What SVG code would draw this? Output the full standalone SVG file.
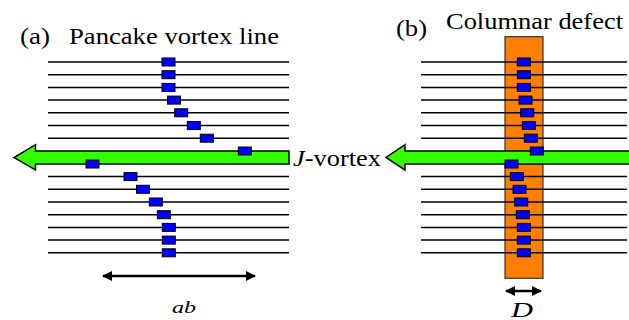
<svg xmlns="http://www.w3.org/2000/svg" width="629" height="320" viewBox="0 0 629 320">
<defs>
<style>
.ln{stroke:#000;stroke-width:1.5;fill:none}
.bx{fill:#0000FF;stroke:#000;stroke-width:1}
.gr{fill:#33FF00;stroke:#000;stroke-width:1.5}
.t{font-family:"Liberation Serif","Times New Roman",serif;fill:#000}
.dim{stroke:#000;stroke-width:2.5;fill:none}
</style>
<marker id="ah" viewBox="0 0 10 10" refX="9" refY="5" markerWidth="4.4" markerHeight="4" orient="auto-start-reverse" markerUnits="strokeWidth">
<path d="M0,0 L10,5 L0,10 Z" fill="#000"/>
</marker>
</defs>
<rect width="629" height="320" fill="#fff"/>

<g id="labels">
<text class="t" x="20" y="44" font-size="23" textLength="30" lengthAdjust="spacingAndGlyphs">(a)</text>
<text class="t" x="69" y="44" font-size="23" textLength="210" lengthAdjust="spacingAndGlyphs">Pancake vortex line</text>
<text class="t" x="396" y="36" font-size="23" textLength="31" lengthAdjust="spacingAndGlyphs">(b)</text>
<text class="t" x="446" y="29" font-size="23" textLength="177" lengthAdjust="spacingAndGlyphs">Columnar defect</text>
<text class="t" x="293" y="166" font-size="23" textLength="88" lengthAdjust="spacingAndGlyphs"><tspan font-style="italic">J</tspan>-vortex</text>
<text class="t" x="172" y="313" font-size="17" font-style="italic" textLength="24" lengthAdjust="spacingAndGlyphs">ab</text>
<text class="t" x="511" y="317" font-size="22" font-style="italic" textLength="22" lengthAdjust="spacingAndGlyphs">D</text>
</g>

<g id="panel-a">
<g id="layers-a">
<path class="ln" d="M48,62H289M48,74.7H289M48,87.4H289M48,100.1H289M48,112.8H289M48,125.5H289M48,138.2H289M48,176.6H289M48,189.3H289M48,202H289M48,214.7H289M48,227.4H289M48,240.1H289M48,252.8H289"/>
</g>
<g id="jvortex-a">
<path class="gr" d="M289,151 H35.5 V144.7 L14,157.5 L35.5,170 V164 H289 Z"/>
</g>
<g id="pancakes-a">
<rect class="bx" x="162" y="58" width="13" height="8"/>
<rect class="bx" x="162" y="70.7" width="13" height="8"/>
<rect class="bx" x="162" y="83.4" width="13" height="8"/>
<rect class="bx" x="167.5" y="96.1" width="13" height="8"/>
<rect class="bx" x="174.7" y="108.8" width="13" height="8"/>
<rect class="bx" x="187.3" y="121.5" width="13" height="8"/>
<rect class="bx" x="200.3" y="134.2" width="13" height="8"/>
<rect class="bx" x="238.3" y="147" width="13" height="8"/>
<rect class="bx" x="86" y="160" width="13" height="8"/>
<rect class="bx" x="124" y="172.6" width="13" height="8"/>
<rect class="bx" x="136.5" y="185.3" width="13" height="8"/>
<rect class="bx" x="149.3" y="198" width="13" height="8"/>
<rect class="bx" x="157.3" y="210.7" width="13" height="8"/>
<rect class="bx" x="162.3" y="223.4" width="13" height="8"/>
<rect class="bx" x="162.3" y="236.1" width="13" height="8"/>
<rect class="bx" x="162.3" y="248.8" width="13" height="8"/>
</g>
</g>

<g id="panel-b">
<g id="defect">
<rect x="505" y="36.7" width="38" height="241.6" fill="#FF8000" stroke="#333" stroke-width="1.2"/>
</g>
<g id="layers-b">
<path class="ln" d="M421,62H627M421,74.7H627M421,87.4H627M421,100.1H627M421,112.8H627M421,125.5H627M421,138.2H627M421,176.6H627M421,189.3H627M421,202H627M421,214.7H627M421,227.4H627M421,240.1H627M421,252.8H627"/>
</g>
<g id="jvortex-b">
<path class="gr" d="M632,151 H405 V144.7 L386,157.5 L405,170 V164 H632 Z"/>
</g>
<g id="pancakes-b">
<rect class="bx" x="517.3" y="58" width="13" height="8"/>
<rect class="bx" x="517.3" y="70.7" width="13" height="8"/>
<rect class="bx" x="517.3" y="83.4" width="13" height="8"/>
<rect class="bx" x="519" y="96.1" width="13" height="8"/>
<rect class="bx" x="520.7" y="108.8" width="13" height="8"/>
<rect class="bx" x="522.3" y="121.5" width="13" height="8"/>
<rect class="bx" x="524.3" y="134.2" width="13" height="8"/>
<rect class="bx" x="530.3" y="147" width="13" height="8"/>
<rect class="bx" x="505" y="160" width="13" height="8"/>
<rect class="bx" x="510.3" y="172.6" width="13" height="8"/>
<rect class="bx" x="513" y="185.3" width="13" height="8"/>
<rect class="bx" x="514.7" y="198" width="13" height="8"/>
<rect class="bx" x="516.3" y="210.7" width="13" height="8"/>
<rect class="bx" x="517.3" y="223.4" width="13" height="8"/>
<rect class="bx" x="517.3" y="236.1" width="13" height="8"/>
<rect class="bx" x="517.3" y="248.8" width="13" height="8"/>
</g>
</g>

<g id="connectors">
<line class="dim" x1="103" y1="276" x2="255" y2="276" marker-start="url(#ah)" marker-end="url(#ah)"/>
<line class="dim" x1="506" y1="291" x2="541" y2="291" marker-start="url(#ah)" marker-end="url(#ah)"/>
</g>
</svg>
